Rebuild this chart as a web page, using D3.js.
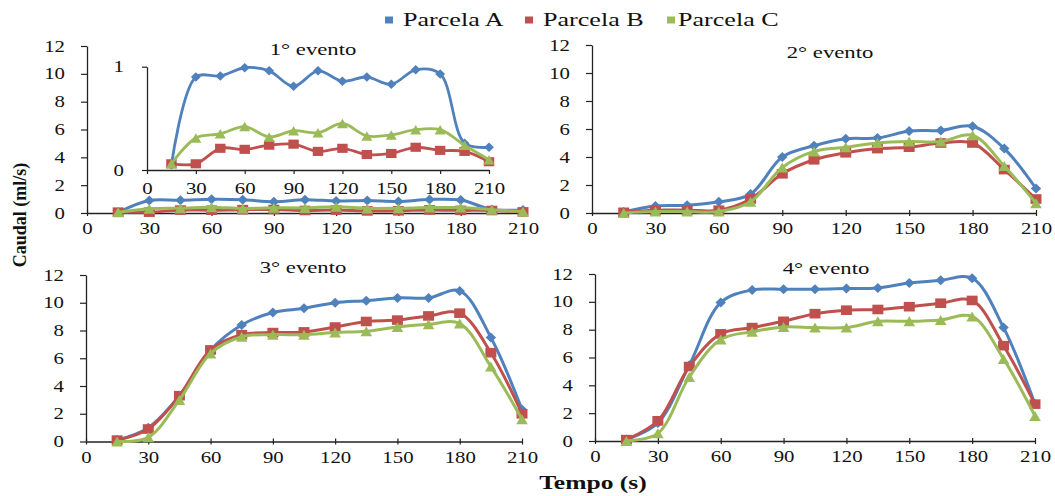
<!DOCTYPE html>
<html><head><meta charset="utf-8">
<script src="https://cdn.jsdelivr.net/npm/d3@7"></script>
<style>html,body{margin:0;padding:0;background:#fff;} svg{display:block;}</style>
</head><body>
<svg id="chart" width="1055" height="496"></svg>
<script>
// ---------- data ----------
const times = [15,30,45,60,75,90,105,120,135,150,165,180,195,210];
const xTicks = [0,30,60,90,120,150,180,210];
const yTicks = [0,2,4,6,8,10,12];
const insetYTicks = [0,1];
const seriesNames = ["Parcela A","Parcela B","Parcela C"];
const eventTitles = ["1° evento","2° evento","3° evento","4° evento"];
const yTitle = "Caudal (ml/s)";
const xTitle = "Tempo (s)";

const ev1A = [0.05,0.90,0.91,0.99,0.96,0.81,0.96,0.86,0.90,0.83,0.97,0.93,0.26,0.22];
const ev1B = [0.06,0.06,0.21,0.20,0.24,0.25,0.18,0.21,0.15,0.16,0.22,0.19,0.18,0.08];
const ev1C = [0.06,0.31,0.35,0.42,0.32,0.38,0.36,0.45,0.33,0.34,0.39,0.39,0.24,0.10];

const ev2A = [0.07,0.50,0.55,0.80,1.35,4.00,4.80,5.30,5.35,5.85,5.90,6.20,4.60,1.75];
const ev2B = [0.05,0.20,0.20,0.20,1.00,2.80,3.80,4.30,4.60,4.70,5.00,5.00,3.10,1.00];
const ev2C = [0.00,0.10,0.10,0.10,0.80,3.25,4.40,4.70,5.00,5.10,5.10,5.55,3.35,0.70];

const ev3A = [0.10,1.00,3.30,6.60,8.40,9.30,9.60,10.00,10.15,10.35,10.35,10.85,7.50,2.30];
const ev3B = [0.10,0.90,3.30,6.60,7.70,7.85,7.90,8.25,8.65,8.75,9.05,9.25,6.40,2.00];
const ev3C = [0.00,0.30,3.00,6.35,7.55,7.70,7.70,7.85,7.95,8.25,8.45,8.50,5.40,1.60];

const ev4A = [0.10,1.30,5.45,9.95,10.85,10.90,10.90,10.95,11.00,11.35,11.55,11.70,8.15,2.65];
const ev4B = [0.10,1.45,5.35,7.70,8.15,8.60,9.15,9.40,9.45,9.65,9.90,10.10,6.85,2.65];
const ev4C = [0.00,0.55,4.60,7.30,7.85,8.20,8.15,8.15,8.60,8.60,8.70,8.95,5.90,1.80];

// ---------- styles ----------
const colors = ["#4F81BD","#C0504D","#9BBB59"];
const FONT = "'Liberation Serif','Times New Roman',serif";
const svg = d3.select("#chart");

function sText(parent, x, y, str, o = {}) {
  const size = o.size || 16, sx = o.sx || 1.3;
  return parent.append("text")
    .attr("transform", `translate(${x},${y}) scale(${sx},1)` + (o.rotate ? ` rotate(${o.rotate})` : ""))
    .attr("text-anchor", o.anchor || "middle")
    .style("font-family", FONT).style("font-size", size + "px")
    .style("font-weight", o.weight || "normal")
    .attr("fill", "#111").text(str);
}

// marker shapes
function markerPath(kind, s) {
  const p = d3.path();
  if (kind === 0) { const w = s*0.52, h = s*0.5; p.moveTo(0,-h); p.lineTo(w,0); p.lineTo(0,h); p.lineTo(-w,0); p.closePath(); }
  else if (kind === 1) { const w = s*0.55, h = s*0.48; p.rect(-w,-h,2*w,2*h); }
  else { const w = s*0.58, h = s*0.5; p.moveTo(0,-h); p.lineTo(w,h); p.lineTo(-w,h); p.closePath(); }
  return p.toString();
}

function drawSeries(g, x, y, seriesList, lw, ms) {
  const line = d3.line().x((d,i) => x(times[i])).y(d => y(d)).curve(d3.curveCatmullRom.alpha(0.5));
  seriesList.forEach((vals, si) => {
    g.append("path").attr("d", line(vals)).attr("fill","none")
      .attr("stroke", colors[si]).attr("stroke-width", lw).attr("stroke-linejoin","round");
    g.selectAll(null).data(vals).enter().append("path")
      .attr("transform", (d,i) => `translate(${x(times[i])},${y(d)})`)
      .attr("d", markerPath(si, ms)).attr("fill", colors[si]);
  });
}

function styleAxis(ax) {
  ax.select(".domain").attr("stroke","#222").attr("stroke-width",1.3);
  ax.selectAll(".tick line").attr("stroke","#222").attr("stroke-width",1.2);
}

function drawAxes(g, x, y, yT, opts) {
  const yAx = g.append("g").attr("transform", `translate(${x.range()[0]},0)`)
    .call(d3.axisLeft(y).tickValues(yT).tickSize(opts.ytick).tickSizeOuter(0).tickFormat(d3.format("d")));
  yAx.selectAll("text").attr("x", null).attr("transform", `translate(${-opts.ygap},0) scale(1.3,1)`)
    .style("font-family", FONT).style("font-size", "16px").attr("fill","#111");
  styleAxis(yAx);
  const xAx = g.append("g").attr("transform", `translate(0,${y.range()[0]})`)
    .call(d3.axisBottom(x).tickValues(xTicks).tickSize(opts.xdown).tickSizeOuter(0));
  xAx.selectAll(".tick line").attr("y1", -opts.xup);
  xAx.selectAll("text").attr("y", null).attr("transform", `translate(0,${opts.xgap}) scale(1.3,1)`)
    .style("font-family", FONT).style("font-size", "16px").attr("fill","#111");
  styleAxis(xAx);
}

// ---------- panels ----------
const panels = [
  {l:87,  r:523,  t:46,  b:213,   data:[ev1A,ev1B,ev1C], title:[313,55]},
  {l:592, r:1036, t:45,  b:213,   data:[ev2A,ev2B,ev2C], title:[830,58]},
  {l:86,  r:522,  t:275, b:441.5, data:[ev3A,ev3B,ev3C], title:[303,272.5]},
  {l:595, r:1035, t:274, b:441,   data:[ev4A,ev4B,ev4C], title:[826,274]}
];

panels.forEach((p, pi) => {
  const g = svg.append("g");
  const x = d3.scaleLinear().domain([0,210]).range([p.l, p.r]);
  const y = d3.scaleLinear().domain([0,12]).range([p.b, p.t]);
  drawAxes(g, x, y, yTicks, {ytick:6, ygap:22, xdown:3, xup:3, xgap:10});
  drawSeries(g, x, y, p.data, 3, 10);
  sText(g, p.title[0], p.title[1], eventTitles[pi], {size:16, sx:1.42});
});

// ---------- inset (1º evento zoom) ----------
{
  const g = svg.append("g");
  const x = d3.scaleLinear().domain([0,210]).range([147, 489]);
  const y = d3.scaleLinear().domain([0,1]).range([170, 66.7]);
  drawAxes(g, x, y, insetYTicks, {ytick:5, ygap:23, xdown:4, xup:0, xgap:13});
  drawSeries(g, x, y, [ev1A,ev1B,ev1C], 2.8, 9.5);
}

// ---------- legend ----------
const legendPos = [[385,403],[525,543],[667,678]];
seriesNames.forEach((n, i) => {
  svg.append("rect").attr("x", legendPos[i][0]).attr("y", 16.5).attr("width", 8).attr("height", 7).attr("fill", colors[i]);
  sText(svg, legendPos[i][1], 26, n, {size:18, sx:1.45, anchor:"start"});
});

// ---------- axis titles ----------
sText(svg, 26, 215, yTitle, {size:18, sx:1, weight:"bold", rotate:-90});
sText(svg, 593, 489, xTitle, {size:18, sx:1.42, weight:"bold"});
</script>
</body></html>
